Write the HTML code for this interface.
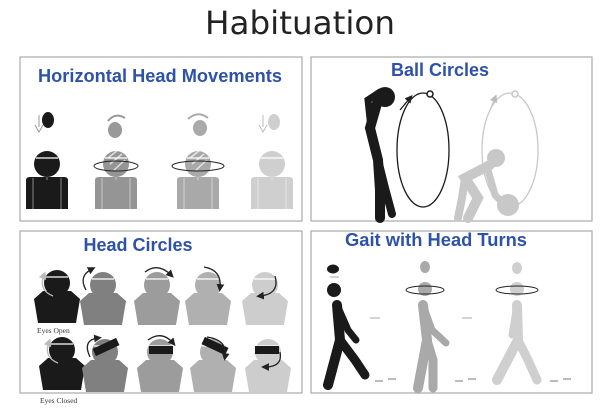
<!DOCTYPE html>
<html><head><meta charset="utf-8"><style>
html,body{margin:0;padding:0;background:#fff;width:600px;height:414px;overflow:hidden}
svg{display:block}
.t{font-family:"Liberation Sans",sans-serif;font-weight:bold;fill:#2d52a8}
.s{font-family:"Liberation Serif",serif;font-size:7.5px;fill:#333}
</style></head><body>
<svg width="600" height="414" viewBox="0 0 600 414">
<defs>
<g id="bust">
 <circle cx="0" cy="0" r="13"/>
 <path d="M-21,16 Q-21,13 -17,13 L17,13 Q21,13 21,16 L21,45 L-21,45Z"/>
 <path d="M-11,-6 L11,-6" stroke="#fff" stroke-width="1.2"/>
 <path d="M-14,14 L-14,45 M14,14 L14,45 M0,13 L0,16" stroke="#fff" stroke-width="0.8" opacity="0.6"/>
</g>
<g id="pent">
 <circle cx="0" cy="0" r="13"/>
 <path d="M-14,8 L14,8 L23,16 L19,40 L-19,40 L-23,16Z"/>
 <path d="M-11,-6 L11,-6" stroke="#fff" stroke-width="1.2"/>
</g>
<marker id="ar" markerWidth="6" markerHeight="6" refX="3" refY="3" orient="auto"><path d="M0,0 L6,3 L0,6Z" fill="#222"/></marker>
<marker id="arg" markerWidth="6" markerHeight="6" refX="3" refY="3" orient="auto"><path d="M0,0 L6,3 L0,6Z" fill="#bbb"/></marker>
</defs>
<text x="300" y="34" text-anchor="middle" font-family="DejaVu Sans,sans-serif" font-size="32" fill="#222" textLength="190" lengthAdjust="spacingAndGlyphs">Habituation</text>

<g fill="none" stroke="#aaa" stroke-width="1.2">
<rect x="20" y="57" width="282" height="164"/>
<rect x="311" y="57" width="281" height="164"/>
<rect x="20" y="231" width="282" height="162"/>
<rect x="311" y="231" width="281" height="162"/>
</g>

<!-- TL -->
<text class="t" x="160" y="82" font-size="18" text-anchor="middle" textLength="244" lengthAdjust="spacingAndGlyphs">Horizontal Head Movements</text>
<use href="#bust" x="47" y="164" fill="#1a1a1a"/>
<use href="#bust" x="116" y="164" fill="#959595"/>
<use href="#bust" x="198" y="164" fill="#a9a9a9"/>
<use href="#bust" x="272" y="164" fill="#cfcfcf"/>
<g stroke="#fff" stroke-width="1.5" opacity="0.7"><path d="M108,158 L118,150 M110,164 L122,154 M114,170 L125,160 M190,158 L200,150 M192,164 L204,154 M196,170 L207,160"/></g>
<ellipse cx="116" cy="166" rx="22" ry="5" fill="none" stroke="#222" stroke-width="1"/>
<ellipse cx="198" cy="166" rx="26" ry="5" fill="none" stroke="#222" stroke-width="1"/>
<ellipse cx="48" cy="120" rx="6" ry="8" fill="#1a1a1a"/>
<path d="M39,115 L39,127 M35,125 L39,132 L43,125" stroke="#999" fill="none"/>
<ellipse cx="115" cy="130" rx="7" ry="8" fill="#999"/>
<path d="M108,121 Q115,112 125,118" stroke="#999" fill="none" stroke-width="2"/>
<ellipse cx="200" cy="128" rx="7" ry="8" fill="#aaa"/>
<path d="M188,119 Q198,110 208,118" stroke="#aaa" fill="none" stroke-width="2"/>
<ellipse cx="274" cy="122" rx="6" ry="8" fill="#cfcfcf"/>
<path d="M263,115 L263,127 M259,125 L263,132 L267,125" stroke="#bbb" fill="none"/>

<!-- BL -->
<text class="t" x="138" y="251" font-size="18" text-anchor="middle">Head Circles</text>
<use href="#pent" x="57" y="283" fill="#1a1a1a"/>
<use href="#pent" x="103" y="285" fill="#808080"/>
<use href="#pent" x="157" y="285" fill="#9c9c9c"/>
<use href="#pent" x="208" y="285" fill="#b0b0b0"/>
<use href="#pent" x="265" y="285" fill="#cdcdcd"/>
<use href="#pent" x="62" y="350" fill="#1a1a1a"/>
<use href="#pent" x="105" y="352" fill="#808080"/>
<use href="#pent" x="160" y="352" fill="#9c9c9c"/>
<use href="#pent" x="213" y="352" fill="#b0b0b0"/>
<use href="#pent" x="268" y="352" fill="#cdcdcd"/>
<g fill="#1a1a1a">
<rect x="93" y="343" width="26" height="8" transform="rotate(-25 106 347)"/>
<rect x="149" y="346" width="24" height="8"/>
<rect x="202" y="342" width="26" height="8" transform="rotate(25 215 346)"/>
<rect x="255" y="346" width="24" height="8"/>
</g>
<g fill="none" stroke="#222" stroke-width="1.3" marker-end="url(#ar)">
<path d="M86,290 Q78,276 92,269"/>
<path d="M145,272 Q158,262 171,275"/>
<path d="M204,267 Q222,270 220,288"/>
<path d="M275,276 Q280,294 260,296"/>
<path d="M90,357 Q82,340 98,338"/>
<path d="M148,340 Q162,330 173,343"/>
<path d="M207,337 Q228,340 225,357"/>
<path d="M280,352 Q283,367 265,367"/>
</g>
<g fill="none" stroke="#bbb" stroke-width="1.3" marker-end="url(#arg)">
<path d="M53,296 Q38,290 44,275"/><path d="M58,363 Q43,357 49,342"/>
</g>
<text class="s" x="37" y="333">Eyes Open</text>
<text class="s" x="40" y="403">Eyes Closed</text>

<!-- TR -->
<text class="t" x="440" y="76" font-size="18" text-anchor="middle">Ball Circles</text>
<g stroke="#1a1a1a" stroke-linecap="round" fill="none">
<path d="M378,100 L370,128 L378,160 L380,190 L380,218" stroke-width="10"/>
<path d="M378,160 L385,188 L392,214" stroke-width="8"/>
<path d="M371,128 L368,100 L380,92" stroke-width="7"/>
</g>
<circle cx="385" cy="97" r="10" fill="#1a1a1a"/>
<ellipse cx="423" cy="150" rx="26" ry="57" fill="none" stroke="#1a1a1a" stroke-width="1.3"/>
<circle cx="430" cy="94" r="3" fill="#fff" stroke="#1a1a1a" stroke-width="1.5"/>
<path d="M400,110 L410,98" stroke="#1a1a1a" stroke-width="1.3" marker-end="url(#ar)"/>
<ellipse cx="510" cy="150" rx="28" ry="57" fill="none" stroke="#c8c8c8" stroke-width="1.3"/>
<circle cx="515" cy="94" r="3" fill="#fff" stroke="#c8c8c8" stroke-width="1.5"/>
<path d="M490,110 L495,98" stroke="#c8c8c8" stroke-width="1.3" marker-end="url(#arg)"/>
<g stroke="#c8c8c8" stroke-linecap="round" fill="none">
<path d="M490,165 L465,178 L478,198 L468,218" stroke-width="10"/>
<path d="M465,178 L462,198 L458,218" stroke-width="8"/>
<path d="M488,170 L495,195 L505,205" stroke-width="7"/>
</g>
<circle cx="496" cy="158" r="9" fill="#c8c8c8"/>
<circle cx="508" cy="205" r="11" fill="#c8c8c8"/>

<!-- BR -->
<text class="t" x="436" y="246" font-size="18" text-anchor="middle" textLength="182" lengthAdjust="spacingAndGlyphs">Gait with Head Turns</text>
<g stroke-linecap="round" fill="none">
<g stroke="#1a1a1a"><path d="M337,305 L340,340 L328,385" stroke-width="10"/><path d="M340,340 L355,360 L365,375" stroke-width="9"/><path d="M337,305 L348,330 L356,340" stroke-width="7"/></g>
<g stroke="#a9a9a9"><path d="M423,305 L427,340 L418,388" stroke-width="10"/><path d="M427,340 L433,360 L433,388" stroke-width="9"/><path d="M423,305 L432,330 L446,343" stroke-width="7"/></g>
<g stroke="#cfcfcf"><path d="M517,305 L518,340 L497,380" stroke-width="10"/><path d="M518,340 L528,360 L537,380" stroke-width="9"/><path d="M517,305 L512,335" stroke-width="7"/></g>
</g>
<circle cx="334" cy="290" r="7" fill="#1a1a1a"/>
<ellipse cx="333" cy="269" rx="6" ry="4.5" fill="#1a1a1a"/>
<circle cx="425" cy="289" r="7" fill="#a9a9a9"/>
<ellipse cx="425" cy="267" rx="5" ry="6" fill="#a9a9a9"/>
<ellipse cx="425" cy="290" rx="19" ry="4" fill="none" stroke="#222"/>
<circle cx="517" cy="289" r="7" fill="#cfcfcf"/>
<ellipse cx="517" cy="268" rx="5" ry="6" fill="#cfcfcf"/>
<ellipse cx="517" cy="290" rx="21" ry="4" fill="none" stroke="#222"/>
<g fill="none" stroke="#aaa"><path d="M330,277 h9 M370,318 h10 M462,318 h10"/></g>
<g fill="#bbb"><path d="M375,380 h8 v2 h-8z M388,378 h8 v2 h-8z M455,380 h8 v2 h-8z M468,378 h8 v2 h-8z M550,380 h8 v2 h-8z M563,378 h8 v2 h-8z"/></g>
</svg>
</body></html>
